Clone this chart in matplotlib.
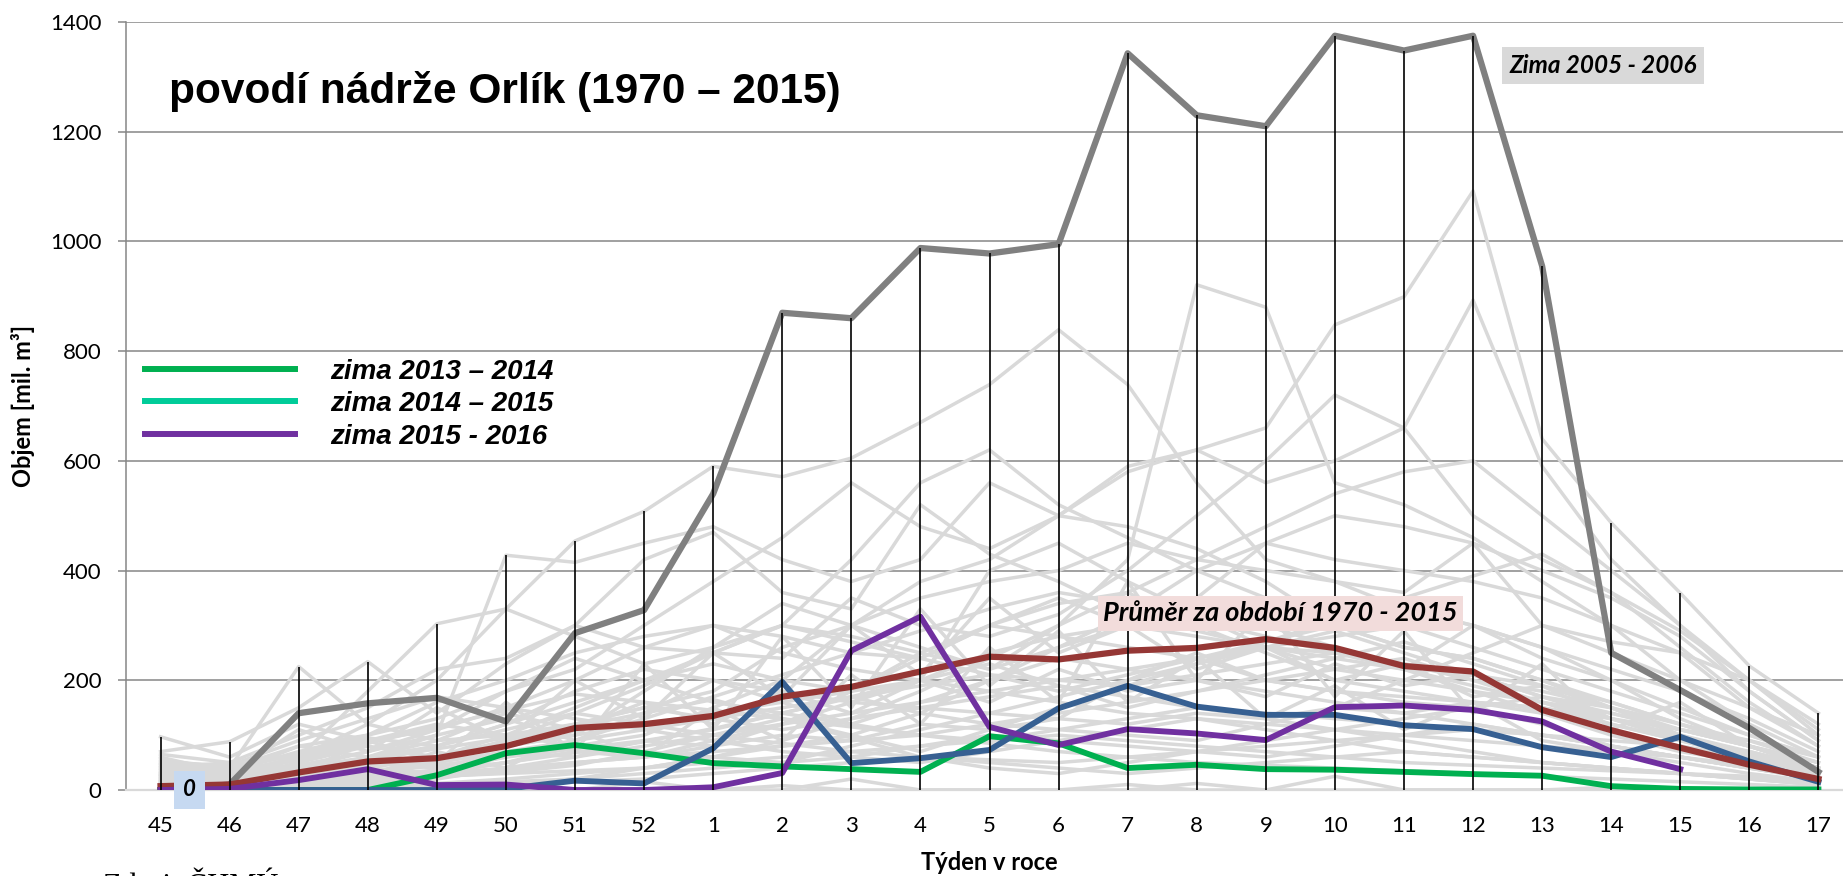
import matplotlib
matplotlib.use("Agg")
import matplotlib.pyplot as plt
from matplotlib.lines import Line2D

weeks = ["45", "46", "47", "48", "49", "50", "51", "52", "1", "2", "3", "4", "5",
         "6", "7", "8", "9", "10", "11", "12", "13", "14", "15", "16", "17"]

# zima 2005 - 2006 (highlighted dark grey)
zima_2005_2006 = [0, 10, 140, 158, 168, 125, 286, 328, 540, 870, 860, 988, 978,
                  995, 1343, 1230, 1210, 1375, 1348, 1375, 955, 250, 182, 113, 33]
# average over 1970 - 2015
prumer = [7, 10, 32, 52, 58, 80, 113, 120, 135, 170, 188, 216, 243,
          238, 254, 259, 275, 259, 226, 216, 146, 109, 77, 46, 20]
zima_2013_2014 = [0, 0, 0, 0, 27, 67, 82, 67, 49, 43, 38, 33, 98,
                  85, 40, 46, 38, 37, 33, 29, 26, 7, 2, 1, 1]
zima_2014_2015 = [0, 0, 0, 0, 0, 2, 17, 12, 76, 197, 49, 58, 73,
                  149, 190, 152, 137, 137, 118, 111, 78, 60, 97, 52, 15]
zima_2015_2016 = [0, 2, 18, 38, 9, 10, 0, 0, 5, 31, 254, 316, 115,
                  82, 111, 103, 91, 151, 154, 146, 125, 70, 38, None, None]

# other winters 1970 - 2015 (light grey background)
ostatni = [
    [97, 60, 120, 90, 110, 150, 200, 260, 300, 280, 250, 240, 300, 280, 260, 240, 200, 180, 160, 150, 120, 80, 60, 40, 20],
    [70, 88, 150, 234, 140, 230, 300, 420, 470, 360, 330, 520, 430, 380, 320, 290, 260, 250, 230, 200, 180, 150, 100, 60, 30],
    [55, 40, 225, 120, 200, 330, 454, 508, 590, 571, 605, 670, 739, 839, 739, 560, 420, 380, 330, 300, 240, 200, 130, 80, 40],
    [30, 20, 60, 180, 303, 330, 280, 230, 260, 300, 280, 250, 220, 300, 420, 921, 880, 560, 520, 460, 380, 300, 200, 120, 60],
    [20, 10, 40, 70, 100, 428, 415, 450, 480, 420, 380, 420, 560, 500, 480, 440, 380, 300, 260, 240, 200, 150, 100, 60, 30],
    [10, 30, 80, 100, 130, 180, 220, 300, 380, 460, 560, 480, 440, 500, 580, 620, 660, 848, 899, 1092, 640, 487, 359, 226, 140],
    [40, 50, 100, 150, 220, 240, 300, 260, 250, 240, 350, 300, 280, 320, 400, 500, 600, 720, 660, 893, 590, 420, 300, 200, 100],
    [5, 10, 30, 50, 80, 120, 160, 200, 250, 300, 420, 560, 620, 520, 460, 400, 350, 300, 260, 240, 200, 160, 120, 80, 40],
    [0, 0, 10, 20, 30, 50, 80, 100, 150, 200, 300, 380, 420, 500, 590, 620, 560, 600, 660, 500, 420, 360, 260, 160, 80],
    [25, 15, 30, 60, 90, 100, 120, 150, 180, 260, 300, 350, 380, 400, 450, 420, 400, 380, 360, 450, 300, 250, 200, 150, 100],
    [15, 20, 50, 80, 60, 100, 150, 200, 230, 200, 180, 250, 300, 350, 300, 280, 260, 240, 220, 300, 260, 200, 150, 100, 60],
    [8, 5, 20, 40, 60, 80, 100, 120, 140, 160, 180, 200, 250, 280, 300, 350, 450, 500, 480, 450, 400, 350, 280, 180, 90],
    [30, 25, 40, 60, 80, 120, 180, 220, 200, 180, 160, 150, 140, 130, 200, 250, 200, 180, 170, 160, 150, 130, 110, 80, 40],
    [12, 8, 15, 30, 50, 70, 90, 110, 130, 150, 170, 140, 120, 110, 100, 90, 120, 150, 200, 250, 300, 270, 250, 200, 120],
    [0, 0, 5, 10, 20, 40, 60, 80, 100, 120, 140, 160, 180, 200, 220, 240, 260, 280, 300, 260, 220, 180, 140, 100, 60],
    [45, 35, 70, 100, 160, 200, 250, 280, 300, 250, 220, 200, 180, 160, 140, 130, 120, 110, 100, 90, 80, 70, 60, 40, 20],
    [5, 5, 10, 15, 25, 35, 50, 60, 80, 120, 180, 240, 300, 340, 360, 300, 250, 200, 180, 160, 140, 100, 70, 50, 30],
    [20, 30, 60, 120, 90, 140, 110, 160, 120, 180, 140, 200, 160, 220, 180, 200, 170, 230, 190, 210, 170, 140, 110, 90, 60],
    [0, 2, 5, 8, 12, 20, 30, 40, 60, 80, 100, 140, 200, 260, 320, 400, 450, 420, 400, 380, 350, 300, 250, 150, 80],
    [35, 40, 80, 60, 100, 130, 90, 140, 200, 160, 120, 100, 90, 110, 130, 150, 140, 130, 120, 110, 100, 90, 80, 60, 30],
    [18, 12, 25, 50, 40, 70, 60, 90, 80, 100, 90, 120, 110, 130, 120, 140, 130, 150, 140, 160, 150, 120, 90, 70, 40],
    [3, 5, 8, 20, 35, 60, 90, 130, 170, 210, 250, 290, 330, 360, 340, 310, 280, 250, 220, 190, 160, 130, 100, 70, 40],
    [50, 45, 90, 130, 170, 150, 130, 110, 90, 70, 60, 50, 70, 90, 110, 130, 110, 90, 70, 60, 50, 40, 30, 20, 10],
    [10, 15, 20, 25, 30, 40, 50, 60, 70, 80, 90, 100, 120, 140, 160, 180, 200, 220, 240, 200, 160, 120, 90, 60, 30],
    [0, 0, 0, 5, 10, 15, 20, 30, 40, 50, 60, 80, 100, 90, 80, 70, 60, 80, 100, 120, 100, 80, 60, 40, 20],
    [28, 22, 45, 70, 110, 180, 240, 200, 160, 140, 120, 160, 200, 240, 220, 200, 180, 160, 140, 120, 100, 80, 60, 40, 25],
    [6, 10, 18, 30, 45, 60, 75, 90, 110, 140, 170, 200, 230, 190, 150, 180, 210, 240, 270, 230, 190, 150, 110, 80, 50],
    [15, 20, 35, 55, 75, 95, 115, 140, 165, 130, 95, 60, 40, 30, 50, 70, 90, 110, 90, 70, 50, 40, 30, 20, 10],
    [2, 4, 10, 25, 55, 90, 140, 190, 250, 300, 270, 240, 210, 180, 210, 240, 270, 300, 330, 300, 260, 220, 180, 130, 70],
    [65, 50, 40, 30, 60, 90, 120, 150, 130, 110, 130, 150, 170, 190, 170, 150, 130, 110, 130, 150, 170, 150, 120, 90, 50],
    [0, 0, 2, 5, 8, 10, 15, 20, 30, 40, 50, 60, 50, 40, 30, 40, 50, 60, 70, 60, 50, 40, 30, 20, 10],
    [22, 18, 30, 45, 60, 80, 100, 180, 260, 340, 300, 260, 220, 260, 300, 340, 300, 260, 220, 180, 140, 110, 80, 50, 30],
    [40, 30, 60, 90, 120, 100, 80, 70, 60, 50, 80, 110, 140, 170, 200, 230, 260, 290, 250, 210, 170, 130, 95, 65, 35],
    [8, 12, 20, 40, 30, 50, 70, 60, 90, 120, 160, 200, 400, 450, 380, 320, 260, 220, 200, 180, 160, 140, 110, 80, 50],
    [12, 6, 15, 20, 25, 30, 35, 40, 50, 60, 70, 80, 90, 100, 90, 80, 70, 60, 50, 45, 40, 35, 30, 25, 15],
    [33, 28, 55, 85, 115, 145, 175, 160, 145, 130, 115, 100, 85, 70, 60, 50, 45, 40, 35, 30, 25, 20, 15, 10, 5],
    [5, 8, 12, 18, 24, 32, 45, 70, 100, 130, 100, 70, 110, 150, 190, 230, 270, 310, 350, 390, 430, 360, 290, 200, 110],
    [0, 0, 0, 0, 5, 10, 20, 40, 60, 90, 130, 180, 240, 300, 360, 420, 480, 540, 580, 600, 500, 400, 300, 180, 90],
    [48, 38, 65, 95, 80, 110, 140, 120, 100, 85, 70, 60, 55, 50, 60, 70, 80, 90, 100, 110, 100, 80, 60, 45, 25],
    [14, 16, 22, 28, 36, 50, 68, 88, 112, 140, 168, 190, 210, 200, 190, 210, 230, 250, 230, 210, 190, 160, 120, 80, 40],
    [0, 0, 0, 0, 0, 3, 0, 0, 0, 8, 0, 0, 0, 0, 0, 12, 0, 0, 0, 0, 0, 0, 0, 0, 0],
    [2, 0, 5, 0, 10, 0, 0, 15, 0, 0, 20, 0, 0, 0, 10, 0, 0, 25, 0, 0, 0, 5, 0, 0, 0],
    [60, 30, 110, 70, 150, 90, 200, 130, 250, 170, 300, 210, 350, 250, 300, 220, 260, 200, 230, 170, 190, 130, 90, 60, 30],
    [25, 50, 30, 90, 50, 160, 70, 230, 110, 280, 150, 330, 190, 290, 160, 240, 130, 190, 110, 160, 90, 70, 50, 30, 15],
    [10, 5, 45, 25, 70, 40, 110, 60, 150, 90, 210, 120, 260, 160, 380, 200, 330, 170, 290, 140, 230, 110, 160, 80, 40],
]

legend_labels = ["zima 2013 \u2013 2014", "zima 2014 \u2013 2015", "zima 2015 - 2016"]
legend_colors = ["#00B050", "#00CC99", "#7030A0"]

CALIBRI = "Lato"
ARIAL = "Liberation Sans"

fig = plt.figure(figsize=(18.43, 8.76), dpi=100)
ax = fig.add_axes([126 / 1843, 86 / 876, 1727 / 1843, 768 / 876])

x = list(range(len(weeks)))

for s in ostatni:
    ax.plot(x, s, color="#D9D9D9", lw=2.5, zorder=2)

ax.plot(x, zima_2005_2006, color="#808080", lw=4.5, zorder=3)
ax.plot(x, zima_2013_2014, color="#00B050", lw=4.2, zorder=4)
ax.plot(x, zima_2014_2015, color="#376092", lw=4.2, zorder=4)
ax.plot(x, prumer, color="#953735", lw=4.5, zorder=5)
x16 = [i for i, v in zip(x, zima_2015_2016) if v is not None]
y16 = [v for v in zima_2015_2016 if v is not None]
ax.plot(x16, y16, color="#7030A0", lw=4.2, zorder=6)

# high-low lines: from lowest to highest value in each week
all_series = ostatni + [zima_2005_2006, prumer, zima_2013_2014, zima_2014_2015]
hi = [max(s[i] for s in all_series) for i in x]
lo = [min(s[i] for s in all_series) for i in x]
ax.vlines(x, lo, hi, color="black", lw=1.2, zorder=7)

ax.set_xlim(-0.5, 24.5)
ax.set_ylim(0, 1400)
ax.set_yticks(range(0, 1401, 200))
ax.set_xticks(x)
ax.set_xticklabels(weeks)
ax.set_axisbelow(True)
ax.yaxis.grid(True, color="#868686", lw=1.1)

for side in ["top", "right"]:
    ax.spines[side].set_visible(False)
ax.spines["left"].set_color("#868686")
ax.spines["left"].set_linewidth(1.1)
ax.spines["bottom"].set_color("#D9D9D9")
ax.spines["bottom"].set_linewidth(1.6)

ax.tick_params(axis="y", direction="out", length=5.8, width=1.1, color="#868686",
               pad=12, labelsize=16)
ax.tick_params(axis="x", length=0, pad=19, labelsize=16)
for lab in ax.get_xticklabels() + ax.get_yticklabels():
    lab.set_fontfamily(CALIBRI)

ax.set_xlabel("T\u00fdden v roce", fontfamily=CALIBRI, fontweight="bold", fontsize=17)
ax.xaxis.set_label_coords(0.5, -0.08)
ax.xaxis.label.set_va("top")
ax.set_ylabel("Objem [mil. m\u00b3]", fontfamily=CALIBRI, fontweight="bold", fontsize=17)
ax.yaxis.set_label_coords(-0.0596, 0.5)
ax.yaxis.label.set_va("center")

fig.text(169 / 1843, 1 - 103 / 876, "povod\u00ed n\u00e1dr\u017ee Orl\u00edk (1970 \u2013 2015)",
         fontfamily=ARIAL, fontweight="bold", fontsize=30.5, va="baseline")

handles = [Line2D([], [], color=c, lw=4.3) for c in legend_colors]
leg = ax.legend(handles, legend_labels, loc="upper left", bbox_to_anchor=(0.011, 0.5615),
                frameon=False, borderpad=0, borderaxespad=0, handlelength=5.4,
                handletextpad=1.26, labelspacing=0.23,
                prop={"family": ARIAL, "weight": "bold", "style": "italic", "size": 20})

ax.text(0.42, 0, "0", fontfamily=CALIBRI, fontweight="bold", fontstyle="italic",
        fontsize=16, ha="center", va="center", zorder=9,
        bbox=dict(boxstyle="square,pad=0.4", fc="#C6D9F1", ec="none"))
ax.text(20.88, 1321, "Zima 2005 - 2006", fontfamily=CALIBRI, fontweight="bold",
        fontstyle="italic", fontsize=17.5, ha="center", va="center", zorder=9,
        bbox=dict(boxstyle="square,pad=0.3", fc="#D9D9D9", ec="none"))
ax.text(16.21, 322, "Pr\u016fm\u011br za obdob\u00ed 1970 - 2015", fontfamily=CALIBRI,
        fontweight="bold", fontstyle="italic", fontsize=19.5, ha="center", va="center",
        zorder=9, bbox=dict(boxstyle="square,pad=0.2", fc="#F2DCDB", ec="none"))

fig.text(103 / 1843, -0.022, "Zdroj: \u010cHM\u00da", fontfamily="Liberation Serif",
         fontsize=22, va="baseline")

fig.savefig("out.png", dpi=100)
